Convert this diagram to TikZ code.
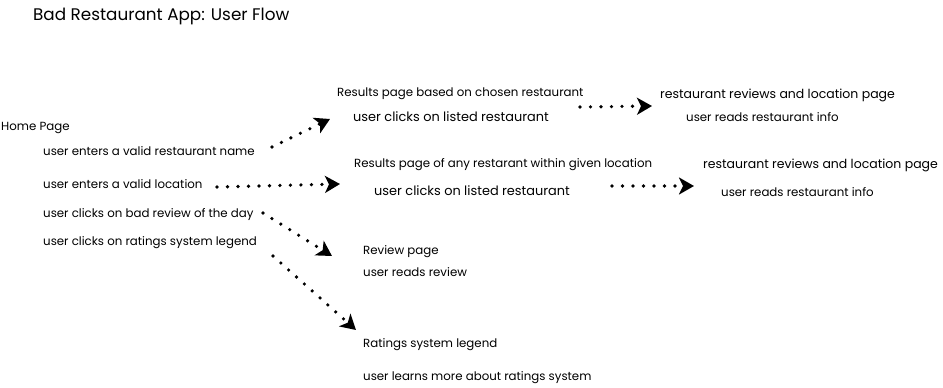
\documentclass[tikz,border=0pt]{standalone}
\usepackage{fontspec}
\setmainfont{Poppins}
\usetikzlibrary{arrows.meta}
\begin{document}
\begin{tikzpicture}[x=1pt,y=-1pt,
  lbl/.style={anchor=west,inner sep=0pt,yshift=-1.5pt,font=\fontsize{11.8}{13}\selectfont},
  lblb/.style={lbl,font=\fontsize{12.9}{14}\selectfont},
  lbld/.style={lbl,font=\fontsize{12.5}{14}\selectfont},
  flow/.style={line width=3.6pt,line cap=round,dash pattern=on 0pt off 10.5pt,
    -{Stealth[length=15pt,width=17pt,inset=4pt]}}]
\useasboundingbox (0,0) rectangle (943,388);
% title
\node[lbl,font=\fontsize{16.8}{18}\selectfont] (title) at (33,15) {Bad Restaurant App: User Flow};
% home page
\node[lbl] (home) at (1,126) {Home Page};
\node[lbl] (h1) at (43,150) {user enters a valid restaurant name};
\node[lbl] (h2) at (43,183) {user enters a valid location};
\node[lbl] (h3) at (43,213) {user clicks on bad review of the day};
\node[lbl] (h4) at (43,241) {user clicks on ratings system legend};
% results by name
\node[lbl] (r1) at (337,92) {Results page based on chosen restaurant};
\node[lblb] (r1a) at (353,115) {user clicks on listed restaurant};
\node[lbld] (d1) at (660,94) {restaurant reviews and location page};
\node[lbl] (d1a) at (686,116) {user reads restaurant info};
% results by location
\node[lbl] (r2) at (354,163) {Results page of any restarant within given location};
\node[lblb] (r2a) at (374,189) {user clicks on listed restaurant};
\node[lbld] (d2) at (703,164) {restaurant reviews and location page};
\node[lbl] (d2a) at (721,191) {user reads restaurant info};
% review and legend
\node[lbl] (rv) at (363,250) {Review page};
\node[lbl] (rva) at (363,271) {user reads review};
\node[lbl] (lg) at (363,343) {Ratings system legend};
\node[lbl] (lga) at (363,376) {user learns more about ratings system};
% connector end points
\coordinate (a1s) at (272,147);
\coordinate (a1e) at (330,119);
\coordinate (a2s) at (217,187);
\coordinate (a2e) at (340,184);
\coordinate (a3s) at (580,107);
\coordinate (a3e) at (652,106);
\coordinate (a4s) at (612,186);
\coordinate (a4e) at (694,186);
\coordinate (a5s) at (263,213);
\coordinate (a5e) at (332,256);
\coordinate (a6s) at (273,256);
\coordinate (a6e) at (356,330);
\draw[flow] (a1s) -- (a1e);
\draw[flow] (a2s) -- (a2e);
\draw[flow] (a3s) -- (a3e);
\draw[flow] (a4s) -- (a4e);
\draw[flow] (a5s) -- (a5e);
\draw[flow] (a6s) -- (a6e);
\end{tikzpicture}
\end{document}
